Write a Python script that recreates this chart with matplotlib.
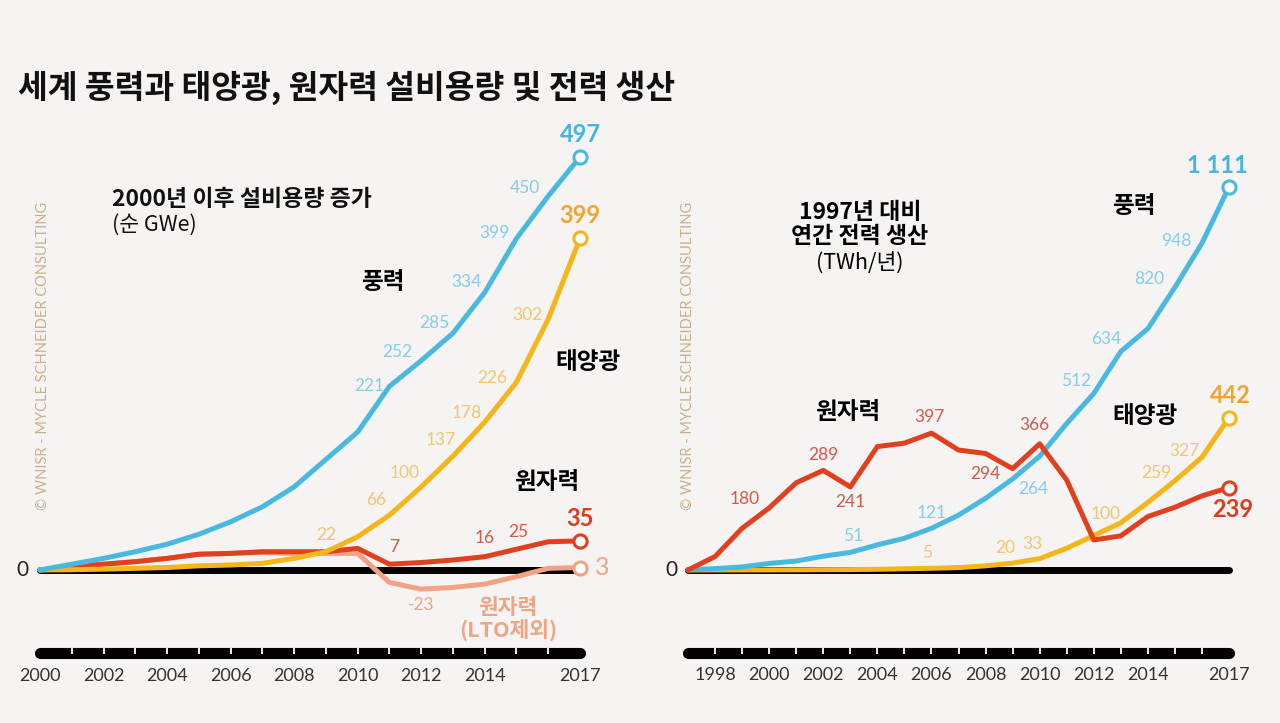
import matplotlib
matplotlib.use("Agg")
import matplotlib.pyplot as plt
import numpy as np

# ---------------- data ----------------
years_cap = list(range(2000, 2018))
wind_cap = [0, 7, 14, 22, 31, 43, 58, 76, 100, 133, 166, 221, 252, 285, 334, 399, 450, 497]
solar_cap = [0, 0.3, 1, 2, 3, 5, 6, 8, 14, 22, 40, 66, 100, 137, 178, 226, 302, 399]
nuclear_cap = [0, 4, 7, 10, 14, 19, 20, 22, 22, 22, 26, 7, 9, 12, 16, 25, 34, 35]
nuclear_nolto_cap = [0, 4, 7, 10, 14, 19, 20, 21, 20, 20, 20, -15, -23, -21, -17, -8, 2, 3]

years_gen = list(range(1997, 2018))
wind_gen = [0, 4, 9, 19, 26, 40, 51, 73, 92, 121, 159, 208, 264, 330, 425, 512, 634, 700, 820, 948, 1111]
solar_gen = [0, 0, 0.1, 0.3, 0.5, 1, 1.2, 2, 3.5, 5, 7, 12, 20, 33, 63, 100, 137, 196, 259, 327, 442]
nuclear_gen = [0, 39, 121, 180, 253, 289, 241, 358, 368, 397, 348, 338, 294, 366, 261, 87, 99, 155, 182, 215, 239]

cap_ticks = [2000, 2002, 2004, 2006, 2008, 2010, 2012, 2014, 2017]
gen_ticks = [1998, 2000, 2002, 2004, 2006, 2008, 2010, 2012, 2014, 2017]

# labelled points: (year, text, dx_px, dy_px)
wind_cap_lbl = [(2011, "221", -20, 0), (2012, "252", -24, 9), (2013, "285", -19, 10),
                (2014, "334", -18, 10), (2015, "399", -22, 5), (2016, "450", -23, 8)]
solar_cap_lbl = [(2009, "22", 0, 17), (2011, "66", -13, 15), (2012, "100", -17, 14),
                 (2013, "137", -12, 16), (2014, "178", -18, 9), (2015, "226", -24, 4),
                 (2016, "302", -21, 4)]
nuc_cap_lbl = [(2011, "7", 5, 17), (2014, "16", 0, 19), (2015, "25", 2, 17)]
nolto_cap_lbl = [(2012, "-23", 0, -16)]

wind_gen_lbl = [(2003, "51", 3, 16), (2006, "121", 0, 15), (2009, "264", 21, -10),
                (2012, "512", -18, 12), (2013, "634", -15, 12), (2015, "820", -26, 8),
                (2016, "948", -26, 2)]
solar_gen_lbl = [(2006, "5", -4, 15), (2009, "20", -7, 15), (2010, "33", -7, 15),
                 (2012, "100", 12, 22), (2015, "259", -19, 8), (2016, "327", -18, 6)]
nuc_gen_lbl = [(2000, "180", -24, 9), (2002, "289", 0, 15), (2003, "241", 0, -15),
               (2006, "397", -2, 16), (2009, "294", -27, -5), (2010, "366", -5, 19)]

# ---------------- style ----------------
BG = "#f5f4f2"
BLUE, BLUE_T, BLUE_B = "#49b9e0", "#86cde8", "#45b4de"
YEL, YEL_T, YEL_B = "#f6b519", "#f3c572", "#f2a52e"
RED, RED_T, RED_B = "#e0401e", "#d7574a", "#de3a1d"
SAL, SAL_T = "#f2a385", "#eea585"
WM = "#c6b28d"
KR = ["Noto Sans CJK KR", "DejaVu Sans"]
NUM = ["Lato", "Noto Sans CJK KR", "DejaVu Sans"]

W, H = 1280, 723
fig = plt.figure(figsize=(W / 100, H / 100), dpi=100, facecolor=BG)


def make_axes(px_left, px_right, px_top, px_bottom, x0px, x0, xstep, y0px, yscale):
    ax = fig.add_axes([px_left / W, 1 - px_bottom / H, (px_right - px_left) / W,
                       (px_bottom - px_top) / H])
    ax.set_facecolor("none")
    ax.set_xlim(x0 + (px_left - x0px) / xstep, x0 + (px_right - x0px) / xstep)
    ax.set_ylim((y0px - px_bottom) / yscale, (y0px - px_top) / yscale)
    ax.axis("off")
    return ax


axL = make_axes(0, 640, 110, 720, 40, 2000, 540 / 17, 570, 413 / 497)
axR = make_axes(640, 1280, 110, 720, 688, 1997, 541 / 20, 570, 383 / 1111)

LW = 3.6


def draw_line(ax, xs, ys, color, z=3, end_marker=True):
    ax.plot(xs, ys, color=color, lw=LW, solid_capstyle="round",
            solid_joinstyle="round", zorder=z)
    if end_marker:
        ax.plot([xs[-1]], [ys[-1]], "o", ms=9.5, mfc="white", mec=color, mew=2.2,
                zorder=z + 5)


def point_labels(ax, xs, ys, items, color, size=12.5):
    d = dict(zip(xs, ys))
    for yr, txt, dx, dy in items:
        ax.annotate(txt, (yr, d[yr]), xytext=(dx, dy), textcoords="offset pixels",
                    ha="center", va="center", color=color, fontsize=size,
                    family=NUM, zorder=12)


def axis_bar(ax, x_start, x_end, yv, ypx_scale):
    ax.plot([x_start, x_end], [yv, yv], color="black", lw=8, solid_capstyle="round",
            zorder=2)
    ax.vlines(range(x_start + 1, x_end), yv - 1 / ypx_scale, yv + 5 / ypx_scale,
              colors="white", lw=1.3, zorder=3)


def end_label(ax, x, y, txt, dx, dy, color, bold=True, size=17):
    ax.annotate(txt, (x, y), xytext=(dx, dy), textcoords="offset pixels",
                ha="center", va="center", color=color, fontsize=size,
                weight="bold" if bold else "normal", family=NUM, zorder=12)


# ---------------- left panel ----------------
sL = 413 / 497
axL.plot([2000, 2017], [0, 0], color="black", lw=5, solid_capstyle="round", zorder=2)
draw_line(axL, years_cap, nuclear_nolto_cap, SAL, z=3)
draw_line(axL, years_cap, nuclear_cap, RED, z=4)
draw_line(axL, years_cap, solar_cap, YEL, z=5)
draw_line(axL, years_cap, wind_cap, BLUE, z=6)

point_labels(axL, years_cap, wind_cap, wind_cap_lbl, BLUE_T)
point_labels(axL, years_cap, solar_cap, solar_cap_lbl, YEL_T)
point_labels(axL, years_cap, nuclear_cap, nuc_cap_lbl, RED_T)
point_labels(axL, years_cap, nuclear_nolto_cap, nolto_cap_lbl, SAL_T)

end_label(axL, 2017, wind_cap[-1], str(wind_cap[-1]), 0, 22, BLUE_B)
end_label(axL, 2017, solar_cap[-1], str(solar_cap[-1]), 0, 23, YEL_B)
end_label(axL, 2017, nuclear_cap[-1], str(nuclear_cap[-1]), 0, 22, RED_B)
end_label(axL, 2017, nuclear_nolto_cap[-1], str(nuclear_nolto_cap[-1]), 22, 0, SAL_T,
          bold=False, size=18)

axis_bar(axL, 2000, 2017, -100, sL)
for t in cap_ticks:
    axL.text(t, -127, str(t), ha="center", va="center", fontsize=13, color="#333333", family=NUM)
axL.text(1999.45, 0, "0", ha="center", va="center", fontsize=15, color="#222222", family=NUM)

# ---------------- right panel ----------------
sR = 383 / 1111
axR.plot([1997, 2017], [0, 0], color="black", lw=5, solid_capstyle="round", zorder=2)
draw_line(axR, years_gen, solar_gen, YEL, z=4)
draw_line(axR, years_gen, wind_gen, BLUE, z=5)
draw_line(axR, years_gen, nuclear_gen, RED, z=6)

point_labels(axR, years_gen, wind_gen, wind_gen_lbl, BLUE_T)
point_labels(axR, years_gen, solar_gen, solar_gen_lbl, YEL_T)
point_labels(axR, years_gen, nuclear_gen, nuc_gen_lbl, RED_T)

end_label(axR, 2017, wind_gen[-1], "1 111", -12, 21, BLUE_B)
end_label(axR, 2017, solar_gen[-1], str(solar_gen[-1]), 1, 22, YEL_B)
end_label(axR, 2017, nuclear_gen[-1], str(nuclear_gen[-1]), 4, -22, RED_B)

axis_bar(axR, 1997, 2017, (570 - 653) / sR, sR)
for t in gen_ticks:
    axR.text(t, (570 - 675) / sR, str(t), ha="center", va="center", fontsize=13,
             color="#333333", family=NUM)
axR.text(1996.38, 0, "0", ha="center", va="center", fontsize=15, color="#222222", family=NUM)

# ---------------- texts (figure pixel coords) ----------------
def ftext(px, py, s, **kw):
    fig.text(px / W, 1 - py / H, s, **kw)


ftext(18, 88, "세계 풍력과 태양광, 원자력 설비용량 및 전력 생산", ha="left", va="center",
      fontsize=23.3, weight="bold", family=KR, color="#111111")

ftext(112, 200, "2000년 이후 설비용량 증가", ha="left", va="center", fontsize=16.5,
      weight="bold", family=KR, color="#111111")
ftext(112, 225, "(순 GWe)", ha="left", va="center", fontsize=15.5, family=KR, color="#111111")
ftext(383, 282, "풍력", ha="center", va="center", fontsize=17, weight="bold", family=KR)
ftext(588, 362, "태양광", ha="center", va="center", fontsize=17, weight="bold", family=KR)
ftext(547, 482, "원자력", ha="center", va="center", fontsize=17, weight="bold", family=KR)
ftext(508, 607, "원자력", ha="center", va="center", fontsize=15.5, weight="bold",
      family=KR, color=SAL_T)
ftext(508, 630, "(LTO제외)", ha="center", va="center", fontsize=15.5, weight="bold",
      family=KR, color=SAL_T)

ftext(860, 212, "1997년 대비", ha="center", va="center", fontsize=16.5, weight="bold", family=KR)
ftext(860, 237, "연간 전력 생산", ha="center", va="center", fontsize=16.5, weight="bold", family=KR)
ftext(860, 263, "(TWh/년)", ha="center", va="center", fontsize=15.5, family=KR)
ftext(1134, 206, "풍력", ha="center", va="center", fontsize=17, weight="bold", family=KR)
ftext(848, 412, "원자력", ha="center", va="center", fontsize=17, weight="bold", family=KR)
ftext(1145, 416, "태양광", ha="center", va="center", fontsize=17, weight="bold", family=KR)

wm = "© WNISR - MYCLE SCHNEIDER CONSULTING"
for xpx in (43, 688):
    ftext(xpx, 356, wm, rotation=90, ha="center", va="center", fontsize=10.5,
          color=WM, family=["Lato", "DejaVu Sans"])

fig.savefig("out.png", dpi=100, facecolor=BG)
